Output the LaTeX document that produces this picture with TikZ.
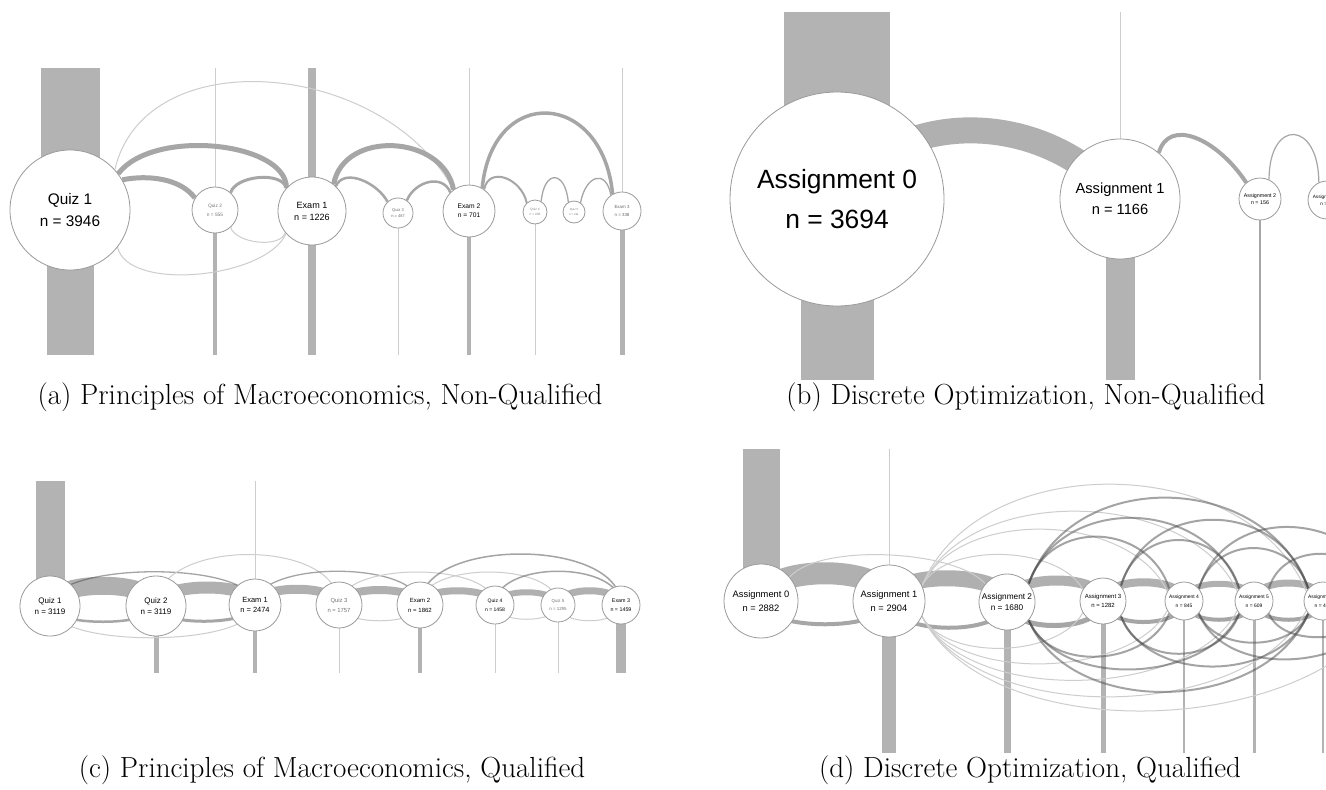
\documentclass[tikz,border=0pt]{standalone}
\usepackage{fontspec}
\setsansfont{Liberation Sans}
\usetikzlibrary{backgrounds}

\definecolor{barc}{HTML}{B3B3B3}
\definecolor{bandc}{HTML}{B0B0B0}
\definecolor{lightc}{HTML}{CDCDCD}
\definecolor{midc}{HTML}{A6A6A6}
\definecolor{darkc}{HTML}{4A4A4A}
\definecolor{rimc}{HTML}{9A9A9A}

% one unit = one pixel of the layout grid
\def\px{0.75pt}

\tikzset{
  nd/.style={circle, draw=rimc, line width=0.8*\px, fill=white, inner sep=0pt,
             align=center, text=black},
  rad/.style={minimum size=#1*1.5pt},
  fs/.style 2 args={font=\sffamily\fontsize{#1}{#2}\selectfont},
  bar/.style={draw=barc, line width=#1*\px},
  band/.style={draw=bandc, line width=#1*\px},
  medl/.style={draw=midc, line width=#1*\px},
  lite/.style={draw=lightc, line width=#1*\px},
  dark/.style={draw=darkc, draw opacity=0.5, line width=#1*\px},
  captext/.style={font=\fontsize{21.8}{25}\selectfont, inner sep=0pt},
}

\begin{document}
\begin{tikzpicture}[x={(0.75pt,0)}, y={(0,-0.75pt)}]
\useasboundingbox (0,0) rectangle (1326,789);

% ---------------- (a) Macroeconomics, non-qualified ----------------
\node[nd, rad=60, fs={11.5}{17}] (Q1a) at (70,210) {Quiz 1\\n = 3946};
\node[nd, rad=23, fs={3.6}{6.5}, text=black!55] (Q2a) at (215,210) {Quiz 2\\n = 555};
\node[nd, rad=34, fs={6.8}{9}] (E1a) at (312,211) {Exam 1\\n = 1226};
\node[nd, rad=15, fs={3}{5}, text=black!60] (Q3a) at (398,213) {Quiz 3\\n = 487};
\node[nd, rad=26, fs={5}{6.8}] (E2a) at (469,211) {Exam 2\\n = 701};
\node[nd, rad=12, fs={2.4}{4}, text=black!50] (Q4a) at (535,212) {Quiz 4\\n = 246};
\node[nd, rad=11, fs={2.2}{3.8}, text=black!50] (Q5a) at (574,212) {Quiz 5\\n = 211};
\node[nd, rad=19, fs={3.3}{5.5}, text=black!60] (E3a) at (622,211) {Exam 3\\n = 338};

\coordinate (Q1a-t) at (70,68);   \coordinate (Q1a-b) at (70,355);
\coordinate (Q2a-t) at (215,68);  \coordinate (Q2a-b) at (215,355);
\coordinate (E1a-t) at (312,68);  \coordinate (E1a-b) at (312,355);
\coordinate (Q3a-b) at (398,355);
\coordinate (E2a-t) at (469,68);  \coordinate (E2a-b) at (469,355);
\coordinate (Q4a-b) at (535,355);
\coordinate (E3a-t) at (622,68);  \coordinate (E3a-b) at (622,355);

% ---------------- (b) Discrete optimization, non-qualified ----------------
\node[nd, rad=107, fs={19.8}{29.5}] (A0b) at (837,199) {Assignment 0\\n = 3694};
\node[nd, rad=60, fs={11}{15.8}] (A1b) at (1120,199) {Assignment 1\\n = 1166};
\node[nd, rad=21, fs={4}{5.5}] (A2b) at (1260,199) {Assignment 2\\n = 156};
\node[nd, rad=19, fs={3.5}{5}] (A3b) at (1327,200) {Assignment 3\\n = 47};

\coordinate (A0b-t) at (837,12);  \coordinate (A0b-b) at (837,380);
\coordinate (A1b-t) at (1120,12); \coordinate (A1b-b) at (1120,380);
\coordinate (A2b-b) at (1260,380);

% ---------------- (c) Macroeconomics, qualified ----------------
\node[nd, rad=30, fs={6}{8.3}] (Q1c) at (50,606) {Quiz 1\\n = 3119};
\node[nd, rad=30, fs={6}{8.3}] (Q2c) at (156,606) {Quiz 2\\n = 3119};
\node[nd, rad=26, fs={5.6}{8}] (E1c) at (255,605) {Exam 1\\n = 2474};
\node[nd, rad=23, fs={4.4}{7.5}, text=black!55] (Q3c) at (339,605) {Quiz 3\\n = 1757};
\node[nd, rad=23, fs={4.5}{7.5}] (E2c) at (420,605) {Exam 2\\n = 1862};
\node[nd, rad=19, fs={3.8}{6.5}] (Q4c) at (495,605) {Quiz 4\\n = 1458};
\node[nd, rad=17, fs={3.3}{6}, text=black!55] (Q5c) at (558,605) {Quiz 5\\n = 1295};
\node[nd, rad=19, fs={4}{6.5}] (E3c) at (621,605) {Exam 3\\n = 1459};

\coordinate (Q1c-t) at (50,481);
\coordinate (E1c-t) at (255,481);
\coordinate (Q2c-b) at (156,673);
\coordinate (E1c-b) at (255,673);
\coordinate (Q3c-b) at (339,673);
\coordinate (E2c-b) at (420,673);
\coordinate (Q4c-b) at (495,673);
\coordinate (Q5c-b) at (558,673);
\coordinate (E3c-b) at (621,673);

% ---------------- (d) Discrete optimization, qualified ----------------
\node[nd, rad=37, fs={7}{11}] (A0d) at (761,601) {Assignment 0\\n = 2882};
\node[nd, rad=36, fs={7}{11}] (A1d) at (889,601) {Assignment 1\\n = 2904};
\node[nd, rad=28, fs={6.2}{8.5}] (A2d) at (1007,602) {Assignment 2\\n = 1680};
\node[nd, rad=23, fs={4.5}{7}] (A3d) at (1103,601) {Assignment 3\\n = 1282};
\node[nd, rad=19, fs={3.7}{6.5}] (A4d) at (1184,601) {Assignment 4\\n = 845};
\node[nd, rad=19, fs={3.7}{6.5}] (A5d) at (1254,601) {Assignment 5\\n = 609};
\node[nd, rad=19, fs={3.7}{6.5}] (A6d) at (1323,601) {Assignment 6\\n = 410};
\coordinate (A7d) at (1392,601);

\coordinate (A0d-t) at (761,449);
\coordinate (A1d-t) at (889,449);
\coordinate (A1d-b) at (889,753);
\coordinate (A2d-b) at (1007,753);
\coordinate (A3d-b) at (1103,753);
\coordinate (A4d-b) at (1184,753);
\coordinate (A5d-b) at (1254,753);
\coordinate (A6d-b) at (1323,753);

% ---------------- captions ----------------
\node[captext] (capa) at (320,397) {(a) Principles of Macroeconomics, Non-Qualified};
\node[captext] (capb) at (1026,397) {(b) Discrete Optimization, Non-Qualified};
\node[captext] (capc) at (332,770) {(c) Principles of Macroeconomics, Qualified};
\node[captext] (capd) at (1030,770) {(d) Discrete Optimization, Qualified};

\begin{scope}[on background layer]
  \fill[white] (0,0) rectangle (1326,789);
  \clip (0,0) rectangle (1326,789);

  % (a) vertical flows
  \draw[bar=59] (Q1a.center) -- (Q1a-t);
  \draw[bar=47] (Q1a.center) -- (Q1a-b);
  \draw[lite=1] (Q2a.center) -- (Q2a-t);
  \draw[bar=4] (Q2a.center) -- (Q2a-b);
  \draw[bar=8] (E1a-t) -- (E1a-b);
  \draw[lite=1] (Q3a.center) -- (Q3a-b);
  \draw[lite=1] (E2a.center) -- (E2a-t);
  \draw[bar=4] (E2a.center) -- (E2a-b);
  \draw[lite=1] (Q4a.center) -- (Q4a-b);
  \draw[lite=1] (E3a.center) -- (E3a-t);
  \draw[bar=5] (E3a.center) -- (E3a-b);

  % (a) transitions
  \draw[lite=1] (Q1a.42) .. controls +(30,-130) and +(-70,-130) .. (E2a.126);
  \draw[medl=5] (Q1a.37) .. controls +(35,-46) and +(0,-46) .. (E1a.138);
  \draw[medl=5] (Q1a.30) .. controls +(25,-5) and +(-15,-20) .. (Q2a.149);
  \draw[medl=3] (Q2a.48) .. controls +(5,-17) and +(-5,-17) .. (E1a.138);
  \draw[lite=1] (Q2a.-48) .. controls +(5,16) and +(-5,16) .. (E1a.-141);
  \draw[lite=1] (Q1a.-38) .. controls +(10,45) and +(-20,45) .. (E1a.-139);
  \draw[medl=5] (E1a.51) .. controls +(10,-55) and +(-10,-55) .. (E2a.126);
  \draw[medl=2.5] (E1a.46) .. controls +(8,-19) and +(-10,-19) .. (Q3a.133);
  \draw[medl=2.5] (Q3a.55) .. controls +(8,-19) and +(-8,-19) .. (E2a.135);
  \draw[medl=3.5] (E2a.60) .. controls +(10,-104) and +(-10,-104) .. (E3a.119);
  \draw[medl=2] (E2a.55) .. controls +(5,-24) and +(-5,-24) .. (Q4a.132);
  \draw[medl=1.3] (Q4a.60) .. controls +(3,-32) and +(-3,-32) .. (Q5a.120);
  \draw[medl=1.3] (Q5a.55) .. controls +(5,-27) and +(-5,-27) .. (E3a.125);

  % (b) vertical flows
  \draw[bar=106] (A0b.center) -- (A0b-t);
  \draw[bar=73] (A0b.center) -- (A0b-b);
  \draw[lite=1] (A1b.center) -- (A1b-t);
  \draw[bar=29] (A1b.center) -- (A1b-b);
  \draw[medl=1.2] (A2b.center) -- (A2b-b);

  % (b) transitions
  \draw[band=26] (A0b.center) .. controls +(53,-89) and +(-80,-94) .. (A1b.center);
  \draw[medl=4] (A1b.50) .. controls +(10,-35) and +(-30,-45) .. (A2b.130);
  \draw[medl=1.2] (A2b.65) .. controls +(0,-62) and +(0,-62) .. (A3b.115);

  % (c) vertical flows
  \draw[bar=29] (Q1c.center) -- (Q1c-t);
  \draw[lite=1] (E1c.center) -- (E1c-t);
  \draw[bar=5] (Q2c.center) -- (Q2c-b);
  \draw[bar=4] (E1c.center) -- (E1c-b);
  \draw[lite=1] (Q3c.center) -- (Q3c-b);
  \draw[bar=4] (E2c.center) -- (E2c-b);
  \draw[lite=1] (Q4c.center) -- (Q4c-b);
  \draw[lite=1] (Q5c.center) -- (Q5c-b);
  \draw[bar=10] (E3c.center) -- (E3c-b);

  % (c) transitions between neighbours
  \draw[band=18] (Q1c.center) .. controls +(0,-27) and +(0,-27) .. (Q2c.center);
  \draw[band=12] (Q2c.center) .. controls +(0,-24) and +(0,-24) .. (E1c.center);
  \draw[band=9] (E1c.center) .. controls +(0,-21) and +(0,-21) .. (Q3c.center);
  \draw[band=8] (Q3c.center) .. controls +(0,-20) and +(0,-20) .. (E2c.center);
  \draw[band=7] (E2c.center) .. controls +(0,-19) and +(0,-19) .. (Q4c.center);
  \draw[band=6] (Q4c.center) .. controls +(0,-17) and +(0,-17) .. (Q5c.center);
  \draw[band=7] (Q5c.center) .. controls +(0,-19) and +(0,-19) .. (E3c.center);
  \draw[medl=2.5] (Q1c.center) .. controls +(0,21) and +(0,21) .. (Q2c.center);
  \draw[medl=3] (Q2c.center) .. controls +(0,21) and +(0,21) .. (E1c.center);
  \draw[lite=1] (Q3c.center) .. controls +(0,21) and +(0,21) .. (E2c.center);
  \draw[lite=1] (Q4c.center) .. controls +(0,19) and +(0,19) .. (Q5c.center);
  \draw[lite=1] (Q5c.center) .. controls +(0,21) and +(0,21) .. (E3c.center);
  % (c) longer jumps
  \draw[lite=1] (Q1c.center) .. controls +(0,43) and +(0,43) .. (E1c.center);
  \draw[dark=1.3] (Q1c.center) .. controls +(0,-45) and +(0,-45) .. (E1c.center);
  \draw[lite=1] (Q2c.center) .. controls +(0,-68) and +(0,-68) .. (Q3c.center);
  \draw[dark=1.3] (E1c.center) .. controls +(0,-45) and +(0,-45) .. (E2c.center);
  \draw[lite=1] (Q3c.center) .. controls +(0,-44) and +(0,-44) .. (Q4c.center);
  \draw[lite=1] (E2c.center) .. controls +(0,-44) and +(0,-44) .. (Q5c.center);
  \draw[dark=1.5] (E2c.center) .. controls +(0,-68) and +(0,-68) .. (E3c.center);
  \draw[dark=1.5] (Q4c.center) .. controls +(0,-45) and +(0,-45) .. (E3c.center);

  % (d) vertical flows
  \draw[bar=37] (A0d.center) -- (A0d-t);
  \draw[lite=1] (A1d.center) -- (A1d-t);
  \draw[bar=14] (A1d.center) -- (A1d-b);
  \draw[bar=7] (A2d.center) -- (A2d-b);
  \draw[bar=5] (A3d.center) -- (A3d-b);
  \draw[bar=2] (A4d.center) -- (A4d-b);
  \draw[bar=3] (A5d.center) -- (A5d-b);
  \draw[bar=2.5] (A6d.center) -- (A6d-b);

  % (d) transitions between neighbours
  \draw[band=22] (A0d.center) .. controls +(0,-37) and +(0,-37) .. (A1d.center);
  \draw[band=16] (A1d.center) .. controls +(0,-31) and +(0,-31) .. (A2d.center);
  \draw[band=10] (A2d.center) .. controls +(0,-28) and +(0,-28) .. (A3d.center);
  \draw[band=8] (A3d.center) .. controls +(0,-25) and +(0,-25) .. (A4d.center);
  \draw[band=6] (A4d.center) .. controls +(0,-23) and +(0,-23) .. (A5d.center);
  \draw[band=7] (A5d.center) .. controls +(0,-24) and +(0,-24) .. (A6d.center);
  \draw[medl=4] (A0d.center) .. controls +(0,31) and +(0,31) .. (A1d.center);
  \draw[medl=4] (A1d.center) .. controls +(0,35) and +(0,35) .. (A2d.center);
  \draw[medl=5] (A2d.center) .. controls +(0,32) and +(0,32) .. (A3d.center);
  \draw[medl=4] (A3d.center) .. controls +(0,28) and +(0,28) .. (A4d.center);
  \draw[medl=4] (A4d.center) .. controls +(0,25) and +(0,25) .. (A5d.center);
  \draw[medl=4] (A5d.center) .. controls +(0,25) and +(0,25) .. (A6d.center);

  % (d) long jumps, light
  \draw[lite=1] (A0d.40) .. controls +(30,-34) and +(-30,-34) .. (A2d.140);
  \draw[lite=1] (A1d.25) .. controls +(24,-44) and +(-24,-44) .. (A3d.150);
  \draw[lite=1] (A1d.25) .. controls +(37,-79) and +(-37,-79) .. (A4d.150);
  \draw[lite=1] (A1d.25) .. controls +(47,-103) and +(-47,-103) .. (A5d.150);
  \draw[lite=1] (A1d.25) .. controls +(58,-139) and +(-58,-139) .. (A6d.150);
  \draw[lite=1] (A1d.-25) .. controls +(24,45) and +(-24,45) .. (A3d.-150);
  \draw[lite=1] (A1d.-25) .. controls +(37,67) and +(-37,67) .. (A4d.-150);
  \draw[lite=1] (A1d.-25) .. controls +(47,89) and +(-47,89) .. (A5d.-150);
  \draw[lite=1] (A1d.-25) .. controls +(58,111) and +(-58,111) .. (A6d.-150);
  \draw[lite=1] (A1d.-25) .. controls +(70,136) and +(-70,136) .. (A7d);

  % (d) long jumps, dark
  \draw[dark=2] (A2d.40) .. controls +(21,-66) and +(-21,-66) .. (A4d.140);
  \draw[dark=2] (A2d.40) .. controls +(32,-91) and +(-32,-91) .. (A5d.140);
  \draw[dark=2] (A2d.40) .. controls +(42,-118) and +(-42,-118) .. (A6d.140);
  \draw[dark=2] (A3d.40) .. controls +(18,-63) and +(-18,-63) .. (A5d.140);
  \draw[dark=2] (A3d.40) .. controls +(28,-90) and +(-28,-90) .. (A6d.140);
  \draw[dark=2] (A4d.40) .. controls +(16,-54) and +(-16,-54) .. (A6d.140);
  \draw[dark=2] (A4d.40) .. controls +(28,-90) and +(-28,-90) .. (A7d);
  \draw[dark=2] (A5d.40) .. controls +(16,-54) and +(-16,-54) .. (A7d);
  \draw[dark=2] (A2d.-40) .. controls +(21,53) and +(-21,53) .. (A4d.-140);
  \draw[dark=2] (A2d.-40) .. controls +(32,70) and +(-32,70) .. (A5d.-140);
  \draw[dark=2] (A2d.-40) .. controls +(42,100) and +(-42,100) .. (A6d.-140);
  \draw[dark=2] (A3d.-40) .. controls +(18,52) and +(-18,52) .. (A5d.-140);
  \draw[dark=2] (A3d.-40) .. controls +(28,69) and +(-28,69) .. (A6d.-140);
  \draw[dark=2] (A4d.-40) .. controls +(16,39) and +(-16,39) .. (A6d.-140);
  \draw[dark=2] (A4d.-40) .. controls +(28,69) and +(-28,69) .. (A7d);
  \draw[dark=2] (A5d.-40) .. controls +(16,39) and +(-16,39) .. (A7d);
\end{scope}
\end{tikzpicture}
\end{document}
